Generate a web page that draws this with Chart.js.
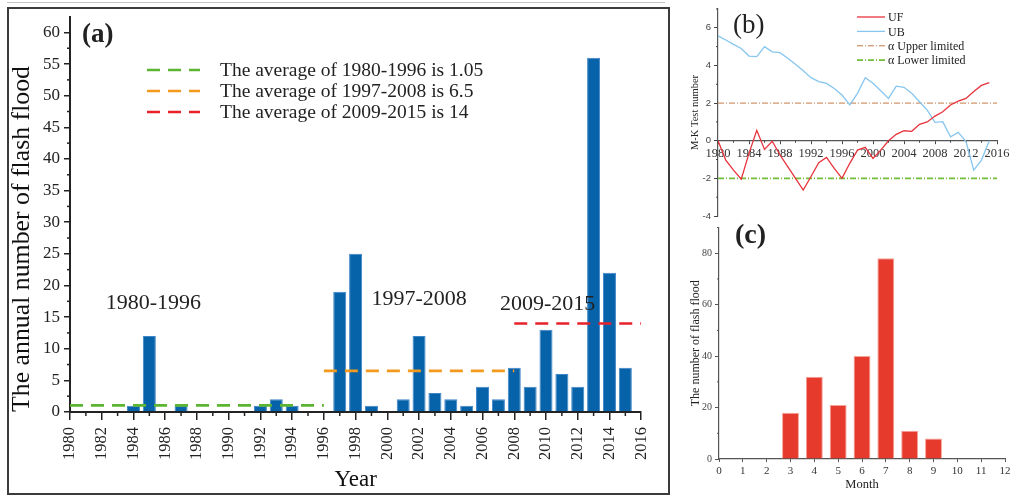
<!DOCTYPE html>
<html>
<head>
<meta charset="utf-8">
<title>Flash flood statistics</title>
<script src="https://cdn.jsdelivr.net/npm/chart.js@4.4.1/dist/chart.umd.min.js"></script>
<style>
    html, body { margin: 0; padding: 0; background: #fff; }
    #page { position: relative; width: 1017px; height: 495px; overflow: hidden; }
    #top-rule { position: absolute; left: 7px; top: 2px; width: 658px; height: 1px; background: #c4c4c4; }
    #frame-a { position: absolute; left: 7px; top: 7px; width: 659px; height: 484px; border: 2px solid #3b3b3b; }
    canvas { position: absolute; }
</style>
</head>
<body>
<div id="page">
    <div id="top-rule"></div>
    <div id="frame-a"></div>
    <canvas id="chart-a" width="659" height="484" style="left:9px;top:9px"></canvas>
    <canvas id="chart-b" width="327" height="222" style="left:690px;top:0px"></canvas>
    <canvas id="chart-c" width="327" height="273" style="left:690px;top:222px"></canvas>
</div>
<script>
// ---- data ----
const years = [1980, 1981, 1982, 1983, 1984, 1985, 1986, 1987, 1988, 1989, 1990, 1991,
    1992, 1993, 1994, 1995, 1996, 1997, 1998, 1999, 2000, 2001, 2002, 2003,
    2004, 2005, 2006, 2007, 2008, 2009, 2010, 2011, 2012, 2013, 2014, 2015];
const floodCounts = [0, 0, 0, 0, 1, 12, 0, 1, 0, 0, 0, 0,
    1, 2, 1, 0, 0, 19, 25, 1, 0, 2, 12, 3,
    2, 1, 4, 2, 7, 4, 13, 6, 4, 56, 22, 7];

const periodNames = ['1980-1996', '1997-2008', '2009-2015'];
const periodAverages = [1.05, 6.5, 14];
const avgLineStart = [1980, 1996, 2008];
const avgLineEnd = [1996, 2008, 2016];
const avgLabels = ['The average of 1980-1996 is 1.05', 'The average of 1997-2008 is 6.5', 'The average of 2009-2015 is 14'];

// Mann-Kendall statistics
const ufValues = [0, -1.03, -1.56, -2.04, -0.67, 0.55, -0.46, -0.03, -0.76, -1.38, -2.0, -2.62,
    -1.9, -1.17, -0.89, -1.47, -2.0, -1.2, -0.5, -0.35, -0.94, -0.5, 0.0, 0.34,
    0.53, 0.5, 0.87, 1.0, 1.31, 1.54, 1.9, 2.1, 2.25, 2.62, 2.94, 3.09];
const ubValues = [5.57, 5.35, 5.12, 4.9, 4.5, 4.47, 5.0, 4.72, 4.68, 4.38, 4.06, 3.72,
    3.35, 3.14, 3.05, 2.78, 2.43, 1.91, 2.52, 3.35, 3.05, 2.66, 2.25, 2.9,
    2.84, 2.52, 2.07, 1.63, 0.98, 1.01, 0.21, 0.44, -0.05, -1.56, -1.03, 0.0];
const alphaUpper = 2;
const alphaLower = -2;
const mkSpan = [1980, 2016];

const months = [1, 2, 3, 4, 5, 6, 7, 8, 9, 10, 11, 12];
const monthCounts = [0, 0, 18, 32, 21, 40, 78, 11, 8, 0, 0, 0];

const SERIF = '"Liberation Serif", "Times New Roman", serif';
Chart.defaults.font.family = SERIF;
Chart.defaults.color = '#222';
Chart.defaults.animation = false;

// short ticks between the labelled ones
const minorTicks = {
    id: 'minorTicks',
    afterDraw(chart, args, opts) {
        const ctx = chart.ctx;
        ctx.save();
        ctx.strokeStyle = opts.color || '#222';
        ctx.lineWidth = opts.width || 1;
        (opts.axes || []).forEach(a => {
            const s = chart.scales[a.id];
            // x axis may sit on y = 0 instead of the bottom edge
            const lineY = a.atY !== undefined ? chart.scales.y.getPixelForValue(a.atY) : s.top;
            const start = Math.ceil(s.min / a.step) * a.step;
            for (let v = start; v <= s.max + 1e-9; v += a.step) {
                const r = v / a.major;
                if (Math.abs(r - Math.round(r)) < 1e-6) continue;
                const p = s.getPixelForValue(v);
                ctx.beginPath();
                if (s.isHorizontal()) {
                    ctx.moveTo(p, lineY);
                    ctx.lineTo(p, lineY + a.len);
                } else {
                    ctx.moveTo(s.right, p);
                    ctx.lineTo(s.right - a.len, p);
                }
                ctx.stroke();
            }
        });
        ctx.restore();
    }
};

// free text: panel letters, period names, legends
const annotations = {
    id: 'annotations',
    afterDatasetsDraw(chart, args, opts) {
        const ctx = chart.ctx;
        ctx.save();
        (opts.texts || []).forEach(t => {
            ctx.font = t.font;
            ctx.fillStyle = t.color || '#222';
            ctx.textAlign = t.align || 'left';
            ctx.textBaseline = 'middle';
            let x = t.x, y = t.y;
            if (t.dataX !== undefined) {
                x = chart.scales.x.getPixelForValue(t.dataX);
                y = chart.scales.y.getPixelForValue(t.dataY);
            }
            ctx.fillText(t.text, x, y);
        });
        if (opts.legend) {
            const L = opts.legend;
            L.items.forEach((idx, row) => {
                const ds = chart.data.datasets[idx];
                const y = L.y + row * L.rowGap;
                ctx.strokeStyle = ds.borderColor;
                ctx.lineWidth = ds.borderWidth;
                ctx.setLineDash(ds.borderDash || []);
                ctx.beginPath();
                ctx.moveTo(L.x, y);
                ctx.lineTo(L.x + L.lineLen, y);
                ctx.stroke();
                ctx.setLineDash([]);
                ctx.font = L.font;
                ctx.fillStyle = '#222';
                ctx.textAlign = 'left';
                ctx.textBaseline = 'middle';
                ctx.fillText(ds.label, L.x + L.lineLen + L.textGap, y + 1);
            });
        }
        ctx.restore();
    }
};

function fixWidth(w) { return s => { s.width = w; }; }
function fixHeight(h) { return s => { s.height = h; }; }

// ---- (a) annual flash floods ----
const avgColors = ['#5cb531', '#f39a1e', '#e8222b'];
const avgDatasets = periodAverages.map((v, i) => ({
    type: 'line',
    label: avgLabels[i],
    data: [{ x: avgLineStart[i], y: v }, { x: avgLineEnd[i], y: v }],
    borderColor: avgColors[i],
    borderWidth: 2.6,
    borderDash: [13, 8],
    pointRadius: 0,
    order: 0
}));

new Chart(document.getElementById('chart-a'), {
    data: {
        datasets: [{
            type: 'bar',
            label: 'Flash floods',
            data: years.map((y, i) => ({ x: y, y: floodCounts[i] })),
            backgroundColor: '#0662a9',
            borderColor: '#3f86c8',
            borderWidth: 1,
            barPercentage: 0.82,
            categoryPercentage: 1,
            order: 1
        }, ...avgDatasets]
    },
    options: {
        responsive: false,
        devicePixelRatio: 1,
        layout: { padding: { left: 0, right: 24, top: 5, bottom: 0 } },
        plugins: {
            legend: { display: false },
            tooltip: { enabled: false },
            minorTicks: {
                color: '#222', width: 1.5,
                axes: [{ id: 'x', step: 1, major: 2, len: 4 }, { id: 'y', step: 2.5, major: 5, len: 3 }]
            },
            annotations: {
                texts: [
                    { text: '(a)', x: 73, y: 26, font: 'bold 27px ' + SERIF },
                    { text: periodNames[0], dataX: 1985.25, dataY: 17.2, align: 'center', font: '22px ' + SERIF },
                    { text: periodNames[1], dataX: 2002.0, dataY: 17.9, align: 'center', font: '22px ' + SERIF },
                    { text: periodNames[2], dataX: 2010.1, dataY: 17.1, align: 'center', font: '22px ' + SERIF }
                ],
                legend: { items: [1, 2, 3], x: 138, y: 61, rowGap: 21, lineLen: 53, textGap: 20, font: '19.5px ' + SERIF }
            }
        },
        scales: {
            x: {
                type: 'linear', min: 1980, max: 2016, offset: false,
                afterFit: fixHeight(81),
                ticks: {
                    stepSize: 2, autoSkip: false, minRotation: 90, maxRotation: 90, padding: 7,
                    font: { size: 16.5 }, color: '#222',
                    callback: v => String(v)
                },
                grid: { drawOnChartArea: false, offset: false, tickLength: 8, color: '#222', lineWidth: 1.5 },
                border: { color: '#222', width: 2 },
                title: { display: true, text: 'Year', font: { size: 23, lineHeight: 1 }, padding: { top: 0, bottom: 2 }, color: '#111' }
            },
            y: {
                type: 'linear', min: 0, max: 62.4,
                afterFit: fixWidth(61),
                afterBuildTicks: s => { s.ticks = s.ticks.filter(t => t.value % 5 === 0); },
                ticks: { stepSize: 5, padding: 4, font: { size: 17, lineHeight: 0.5 }, color: '#222' },
                grid: { drawOnChartArea: false, tickLength: 6, color: '#222', lineWidth: 1.5 },
                border: { color: '#222', width: 2 },
                title: { display: true, text: 'The annual number of flash flood', align: 'start', font: { size: 25.8, lineHeight: 1 }, padding: { top: 0 }, color: '#111' }
            }
        }
    },
    plugins: [minorTicks, annotations]
});

// ---- (b) Mann-Kendall test ----
new Chart(document.getElementById('chart-b'), {
    type: 'line',
    data: {
        datasets: [{
            label: 'UF',
            data: years.map((y, i) => ({ x: y, y: ufValues[i] })),
            borderColor: '#e8333c', borderWidth: 1.3, pointRadius: 0
        }, {
            label: 'UB',
            data: years.map((y, i) => ({ x: y, y: ubValues[i] })),
            borderColor: '#86c6ef', borderWidth: 1.3, pointRadius: 0
        }, {
            label: 'α Upper limited',
            data: [{ x: mkSpan[0], y: alphaUpper }, { x: mkSpan[1], y: alphaUpper }],
            borderColor: '#c47a46', borderWidth: 1, borderDash: [6, 2, 1, 2], pointRadius: 0
        }, {
            label: 'α Lower limited',
            data: [{ x: mkSpan[0], y: alphaLower }, { x: mkSpan[1], y: alphaLower }],
            borderColor: '#72bd3a', borderWidth: 1.8, borderDash: [6, 2, 1, 2], pointRadius: 0
        }]
    },
    options: {
        responsive: false,
        devicePixelRatio: 1,
        layout: { padding: { left: 0, right: 20, top: 9, bottom: 6 } },
        plugins: {
            legend: { display: false },
            tooltip: { enabled: false },
            minorTicks: {
                color: '#444', width: 1,
                axes: [{ id: 'x', step: 2, major: 4, len: 2, atY: 0 }, { id: 'y', step: 1, major: 2, len: 2 }]
            },
            annotations: {
                texts: [{ text: '(b)', x: 43, y: 26, font: '27px ' + SERIF }],
                legend: { items: [0, 1, 2, 3], x: 167, y: 17, rowGap: 14.4, lineLen: 28, textGap: 3, font: '12px ' + SERIF }
            }
        },
        scales: {
            x: {
                type: 'linear', min: 1980, max: 2016, position: { y: 0 },
                ticks: { stepSize: 4, autoSkip: false, maxRotation: 0, padding: 2, font: { size: 12.5 }, color: '#333', callback: v => String(v) },
                grid: { drawOnChartArea: false, tickLength: 3, color: '#444' },
                border: { color: '#555', width: 1.2 }
            },
            y: {
                type: 'linear', min: -4, max: 7,
                afterFit: fixWidth(28),
                afterBuildTicks: s => { s.ticks = s.ticks.filter(t => t.value <= 6); },
                ticks: { stepSize: 2, padding: 3, font: { family: '"Liberation Sans", Arial, sans-serif', size: 9.5, lineHeight: 0.5 }, color: '#444' },
                grid: { drawOnChartArea: false, tickLength: 4, color: '#444' },
                border: { color: '#555', width: 1.2 },
                title: { display: true, text: 'M-K Test number', font: { size: 10.5, lineHeight: 1 }, padding: { top: 0 }, color: '#222' }
            }
        }
    },
    plugins: [minorTicks, annotations]
});

// ---- (c) flash floods by month ----
new Chart(document.getElementById('chart-c'), {
    type: 'bar',
    data: {
        datasets: [{
            label: 'Flash floods',
            data: months.map((m, i) => ({ x: m, y: monthCounts[i] })),
            backgroundColor: '#e63b2c',
            borderColor: '#f4a398',
            borderWidth: 1,
            barPercentage: 0.71,
            categoryPercentage: 1
        }]
    },
    options: {
        responsive: false,
        devicePixelRatio: 1,
        layout: { padding: { left: 0, right: 12, top: 4, bottom: 0 } },
        plugins: {
            legend: { display: false },
            tooltip: { enabled: false },
            minorTicks: {
                color: '#555', width: 1,
                axes: [{ id: 'y', step: 10, major: 20, len: 2 }]
            },
            annotations: {
                texts: [{ text: '(c)', x: 45, y: 14, font: 'bold 28px ' + SERIF }]
            }
        },
        scales: {
            x: {
                type: 'linear', min: 0, max: 12, offset: false,
                afterFit: fixHeight(36),
                ticks: { stepSize: 1, autoSkip: false, maxRotation: 0, padding: 3, font: { size: 11 }, color: '#333' },
                grid: { drawOnChartArea: false, offset: false, tickLength: 3, color: '#555' },
                border: { color: '#555', width: 1.2 },
                title: { display: true, text: 'Month', font: { size: 12.5, lineHeight: 1 }, padding: { top: 0, bottom: 4 }, color: '#222' }
            },
            y: {
                type: 'linear', min: 0, max: 90,
                afterFit: fixWidth(29),
                afterBuildTicks: s => { s.ticks = s.ticks.filter(t => t.value <= 80); },
                ticks: { stepSize: 20, padding: 3, font: { size: 10, lineHeight: 0.5 }, color: '#444' },
                grid: { drawOnChartArea: false, tickLength: 4, color: '#555' },
                border: { color: '#555', width: 1.2 },
                title: { display: true, text: 'The number of flash flood', font: { size: 12, lineHeight: 1 }, padding: { top: 0 }, color: '#222' }
            }
        }
    },
    plugins: [minorTicks, annotations]
});
</script>
</body>
</html>
